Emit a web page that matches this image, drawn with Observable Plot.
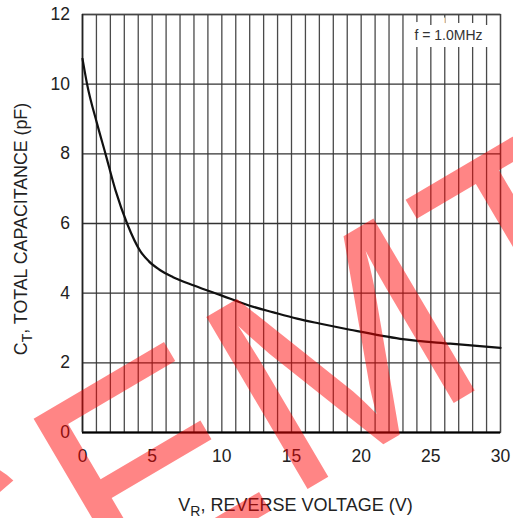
<!DOCTYPE html>
<html>
<head>
<meta charset="utf-8">
<script src="https://cdn.jsdelivr.net/npm/d3@7"></script>
<script src="https://cdn.jsdelivr.net/npm/@observablehq/plot@0.6"></script>
<style>
  html, body { margin: 0; padding: 0; background: white; }
  #chart { width: 513px; height: 518px; overflow: hidden; }
</style>
</head>
<body>
<div id="chart"></div>
<script>
// Reverse voltage (V) and total capacitance (pF)
const voltage = [0, 0.33, 1.05, 1.65, 2.37, 3.2, 4.16, 4.75, 5.5, 6.5, 8, 10, 12, 13.7, 15.4, 17, 19.2, 22.8, 26.4, 30];
const capacitance = [10.73, 10, 8.86, 8, 6.95, 6, 5.2, 4.92, 4.68, 4.46, 4.22, 3.93, 3.64, 3.45, 3.27, 3.13, 2.95, 2.69, 2.55, 2.43];

const xTicks = [0, 5, 10, 15, 20, 25, 30];
const yTicks = [0, 2, 4, 6, 8, 10, 12];
const xGrid = d3.range(0, 31, 1);
const annotation = ["f = 1.0MHz"];
const xTitle = ["V", "R", ", REVERSE VOLTAGE (V)"];
const yTitle = ["C", "T", ", TOTAL CAPACITANCE (pF)"];
const watermark = "SEMTECH";

const data = voltage.map((v, i) => ({v, c: capacitance[i]}));
const font = "'Liberation Sans', Arial, sans-serif";

const plot = Plot.plot({
  width: 513,
  height: 518,
  marginLeft: 82,
  marginRight: 13,
  marginTop: 14,
  marginBottom: 86,
  style: {fontFamily: font, fontSize: "17.5px", color: "#222", background: "white"},
  x: {domain: [0, 30]},
  y: {domain: [0, 12]},
  marks: [
    Plot.gridX(xGrid, {stroke: "#4a4a4a", strokeOpacity: 1, strokeWidth: 1.3}),
    Plot.gridY(yTicks, {stroke: "#333", strokeOpacity: 1, strokeWidth: 1.4}),
    Plot.frame({stroke: "#444", strokeWidth: 1.3}),
    Plot.ruleY([0], {stroke: "#000", strokeWidth: 2}),
    Plot.ruleX([0], {stroke: "#222", strokeWidth: 1.5}),
    Plot.line(data, {x: "v", y: "c", stroke: "#111", strokeWidth: 2.2, curve: "monotone-x"}),
    Plot.text(annotation, {
      text: d => d, frameAnchor: "top-right", textAnchor: "end", lineAnchor: "top",
      dx: -18, dy: 16, fontSize: 14, fill: "#333",
      stroke: "white", strokeWidth: 14, strokeLinejoin: "miter"
    }),
    Plot.axisX({ticks: xTicks, tickSize: 0, tickPadding: 17, label: null, fontSize: 17.5}),
    Plot.axisY({ticks: yTicks, tickSize: 0, tickPadding: 12.5, label: null, fontSize: 17.5})
  ]
});

document.getElementById("chart").appendChild(plot);
const svg = d3.select(plot).style("overflow", "hidden");

// X axis title with subscript
const xt = svg.append("text")
  .attr("x", 295.5).attr("y", 511)
  .attr("text-anchor", "middle")
  .attr("font-family", font).attr("font-size", 18).attr("fill", "#222");
xt.append("tspan").text(xTitle[0]);
xt.append("tspan").attr("font-size", 14).attr("dy", 5).text(xTitle[1]);
xt.append("tspan").attr("dy", -5).text(xTitle[2]);

// Y axis title with subscript
const yt = svg.append("text")
  .attr("transform", "translate(26.5,229) rotate(-90)")
  .attr("text-anchor", "middle")
  .attr("font-family", font).attr("font-size", 17.8).attr("fill", "#222");
yt.append("tspan").text(yTitle[0]);
yt.append("tspan").attr("font-size", 14).attr("dy", 5).text(yTitle[1]);
yt.append("tspan").attr("dy", -5).text(yTitle[2]);

// Watermark
svg.append("text")
  .attr("transform", "translate(114,603) rotate(-30.5)")
  .attr("x", -200).attr("y", 0)
  .attr("text-anchor", "start")
  .attr("font-family", font).attr("font-size", 290)
  .attr("letter-spacing", 7)
  .attr("fill", "#ff0000").attr("fill-opacity", 0.48)
  .text(watermark);
</script>
</body>
</html>
